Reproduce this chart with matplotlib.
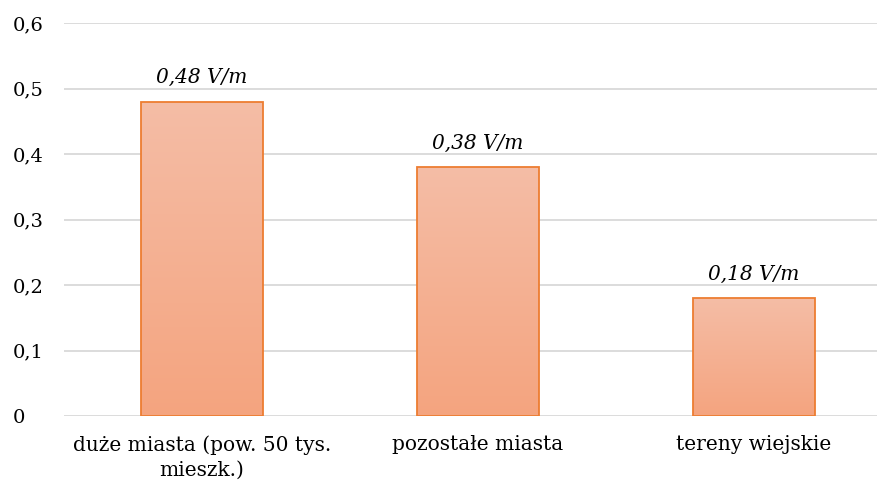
import numpy as np
import matplotlib.pyplot as plt
from matplotlib.colors import LinearSegmentedColormap

# Data
categories = ["duże miasta (pow. 50 tys.\nmieszk.)", "pozostałe miasta", "tereny wiejskie"]
values = [0.48, 0.38, 0.18]
labels = ["0,48 V/m", "0,38 V/m", "0,18 V/m"]
yticks = [0, 0.1, 0.2, 0.3, 0.4, 0.5, 0.6]
ytick_labels = ["0", "0,1", "0,2", "0,3", "0,4", "0,5", "0,6"]

plt.rcParams['font.family'] = ['DejaVu Serif']

fig = plt.figure(figsize=(8.78, 4.84), dpi=100)
ax = fig.add_axes([64 / 878, (484 - 416) / 484, 828 / 878, 393 / 484])

x = np.arange(len(categories))
width = 0.44
bars = ax.bar(x, values, width=width, color="none", edgecolor="#ED7D31", linewidth=1.3, zorder=3)

# gradient fill for each bar
cmap = LinearSegmentedColormap.from_list("grad", ["#F4A47F", "#F5BDA6"])
grad = np.linspace(0, 1, 256).reshape(-1, 1)
for b in bars:
    x0, y0 = b.get_x(), b.get_y()
    im = ax.imshow(grad, cmap=cmap, aspect="auto", origin="lower",
                   extent=[x0, x0 + b.get_width(), y0, y0 + b.get_height()], zorder=2)
    im.set_clip_path(b)

for xi, v, lab in zip(x, values, labels):
    ax.text(xi, v + 0.028, lab, ha="center", va="baseline", style="italic", fontsize=14.5)

ax.set_xlim(-0.5, 2.5)
ax.set_ylim(0, 0.6)
ax.set_yticks(yticks)
ax.set_yticklabels(ytick_labels, fontsize=14)
ax.set_xticks(x)
ax.set_xticklabels(categories, fontsize=14.5, linespacing=1.4)
ax.tick_params(length=0)
ax.tick_params(axis="x", pad=14)
ax.tick_params(axis="y", pad=37)
for lab in ax.get_yticklabels():
    lab.set_horizontalalignment("left")
ax.grid(axis="y", color="#D9D9D9", linewidth=1.3, zorder=0)
ax.set_axisbelow(True)
for s in ax.spines.values():
    s.set_visible(False)

fig.savefig("out.png", dpi=100)
